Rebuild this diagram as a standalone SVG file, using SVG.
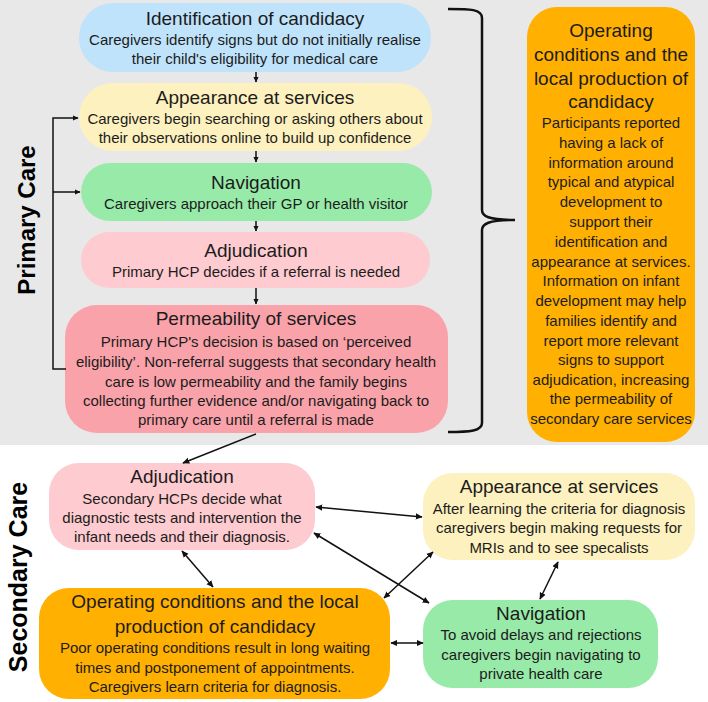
<svg xmlns="http://www.w3.org/2000/svg" width="708" height="702" viewBox="0 0 708 702">
<defs>
<marker id="ah" viewBox="0 0 10 10" refX="9" refY="5" markerWidth="7" markerHeight="7" markerUnits="userSpaceOnUse" orient="auto-start-reverse"><path d="M0,0.5 L10,5 L0,9.5 z" fill="#111"/></marker>
<marker id="ahs" viewBox="0 0 10 10" refX="9" refY="5" markerWidth="6" markerHeight="6" markerUnits="userSpaceOnUse" orient="auto-start-reverse"><path d="M0,0.5 L10,5 L0,9.5 z" fill="#111"/></marker>
</defs>
<style>
text{font-family:"Liberation Sans",Arial,sans-serif;fill:#1c1c1c;text-anchor:middle}
.t{font-size:19px}
.b{font-size:15px}
.side{font-size:24px;font-weight:bold;fill:#000}
.c{stroke:#111;stroke-width:1.5;fill:none}
.blue{fill:#bfe3fb}.yel{fill:#fdf1bf}.grn{fill:#98eaa9}.pk{fill:#fecbd0}.pk2{fill:#f9a2aa}.org{fill:#ffb000}
</style>
<rect x="0" y="0" width="708" height="445" fill="#e8e8e8"/>
<text class="side" transform="translate(35,220) rotate(-90)">Primary Care</text>
<text class="side" transform="translate(27,577) rotate(-90)" style="font-size:25px">Secondary Care</text>

<g id="identification">
<rect class="blue" x="79" y="3" width="352" height="69" rx="34"/>
<text class="t" x="255" y="25">Identification of candidacy</text>
<text class="b" x="255" y="45">Caregivers identify signs but do not initially realise</text>
<text class="b" x="255" y="64">their child's eligibility for medical care</text>
</g>
<g id="appearance1">
<rect class="yel" x="79" y="83" width="353" height="68" rx="34"/>
<text class="t" x="255" y="104">Appearance at services</text>
<text class="b" x="255" y="124">Caregivers begin searching or asking others about</text>
<text class="b" x="255" y="143">their observations online to build up confidence</text>
</g>
<g id="navigation1">
<rect class="grn" x="81" y="163" width="351" height="58" rx="29"/>
<text class="t" x="256" y="189">Navigation</text>
<text class="b" x="256" y="209">Caregivers approach their GP or health visitor</text>
</g>
<g id="adjudication1">
<rect class="pk" x="81" y="232" width="349" height="56" rx="28"/>
<text class="t" x="256" y="257">Adjudication</text>
<text class="b" x="256" y="277">Primary HCP decides if a referral is needed</text>
</g>
<g id="permeability">
<rect class="pk2" x="65" y="305" width="383" height="128" rx="32"/>
<text class="t" x="256" y="325">Permeability of services</text>
<text class="b" x="256" y="347">Primary HCP's decision is based on ‘perceived</text>
<text class="b" x="256" y="367">eligibility’. Non-referral suggests that secondary health</text>
<text class="b" x="256" y="387">care is low permeability and the family begins</text>
<text class="b" x="256" y="406">collecting further evidence and/or navigating back to</text>
<text class="b" x="256" y="425">primary care until a referral is made</text>
</g>
<g id="operating1">
<rect class="org" x="527" y="7" width="168" height="435" rx="30"/>
<text class="t" x="611" y="37">Operating</text>
<text class="t" x="611" y="61">conditions and the</text>
<text class="t" x="611" y="85">local production of</text>
<text class="t" x="611" y="108">candidacy</text>
<text class="b" x="611" y="128">Participants reported</text>
<text class="b" x="611" y="148">having a lack of</text>
<text class="b" x="611" y="168">information around</text>
<text class="b" x="611" y="187">typical and atypical</text>
<text class="b" x="611" y="207">development to</text>
<text class="b" x="611" y="227">support their</text>
<text class="b" x="611" y="247">identification and</text>
<text class="b" x="611" y="267">appearance at services.</text>
<text class="b" x="611" y="286">Information on infant</text>
<text class="b" x="611" y="306">development may help</text>
<text class="b" x="611" y="326">families identify and</text>
<text class="b" x="611" y="346">report more relevant</text>
<text class="b" x="611" y="365">signs to support</text>
<text class="b" x="611" y="385">adjudication, increasing</text>
<text class="b" x="611" y="404">the permeability of</text>
<text class="b" x="611" y="424">secondary care services</text>
</g>

<g id="adjudication2">
<rect class="pk" x="49" y="463" width="266" height="87" rx="30"/>
<text class="t" x="182" y="483">Adjudication</text>
<text class="b" x="182" y="504">Secondary HCPs decide what</text>
<text class="b" x="182" y="523">diagnostic tests and intervention the</text>
<text class="b" x="182" y="542">infant needs and their diagnosis.</text>
</g>
<g id="operating2">
<rect class="org" x="39" y="588" width="351" height="111" rx="30"/>
<text class="t" x="215" y="608">Operating conditions and the local</text>
<text class="t" x="215" y="633">production of candidacy</text>
<text class="b" x="215" y="653">Poor operating conditions result in long waiting</text>
<text class="b" x="215" y="673">times and postponement of appointments.</text>
<text class="b" x="215" y="692">Caregivers learn criteria for diagnosis.</text>
</g>
<g id="appearance2">
<rect class="yel" x="423" y="473" width="272" height="87" rx="30"/>
<text class="t" x="559" y="493">Appearance at services</text>
<text class="b" x="559" y="514">After learning the criteria for diagnosis</text>
<text class="b" x="559" y="533">caregivers begin making requests for</text>
<text class="b" x="559" y="553">MRIs and to see specalists</text>
</g>
<g id="navigation2">
<rect class="grn" x="423" y="600" width="235" height="88" rx="30"/>
<text class="t" x="541" y="620">Navigation</text>
<text class="b" x="541" y="640">To avoid delays and rejections</text>
<text class="b" x="541" y="660">caregivers begin navigating to</text>
<text class="b" x="541" y="679">private health care</text>
</g>

<g id="connectors">
<line class="c" x1="256" y1="72" x2="256" y2="82" marker-end="url(#ahs)"/>
<line class="c" x1="256" y1="151" x2="256" y2="162" marker-end="url(#ahs)"/>
<line class="c" x1="256" y1="221" x2="256" y2="231" marker-end="url(#ahs)"/>
<line class="c" x1="256" y1="288" x2="256" y2="304" marker-end="url(#ahs)"/>
<polyline class="c" points="66,369 53,369 53,118 78,118" marker-end="url(#ahs)"/>
<line class="c" x1="53" y1="192" x2="80" y2="192" marker-end="url(#ahs)"/>
<path d="M448,9 C470,9 482,9 482,18 L482,210 C482,216 488,220 515,220 C488,220 482,224 482,230 L482,423 C482,431 470,432 448,432" fill="none" stroke="#111" stroke-width="2.5"/>
<line class="c" x1="256" y1="434" x2="183" y2="463" marker-end="url(#ah)"/>
<line class="c" x1="316" y1="507" x2="422" y2="517" marker-start="url(#ah)" marker-end="url(#ah)"/>
<line class="c" x1="314" y1="533" x2="429" y2="603" marker-start="url(#ah)" marker-end="url(#ah)"/>
<line class="c" x1="182" y1="551" x2="213" y2="587" marker-start="url(#ah)" marker-end="url(#ah)"/>
<line class="c" x1="384" y1="598" x2="433" y2="552" marker-start="url(#ah)" marker-end="url(#ah)"/>
<line class="c" x1="391" y1="643" x2="423" y2="643" marker-start="url(#ah)" marker-end="url(#ah)"/>
<line class="c" x1="558" y1="562" x2="540" y2="599" marker-start="url(#ah)" marker-end="url(#ah)"/>
</g>
</svg>
